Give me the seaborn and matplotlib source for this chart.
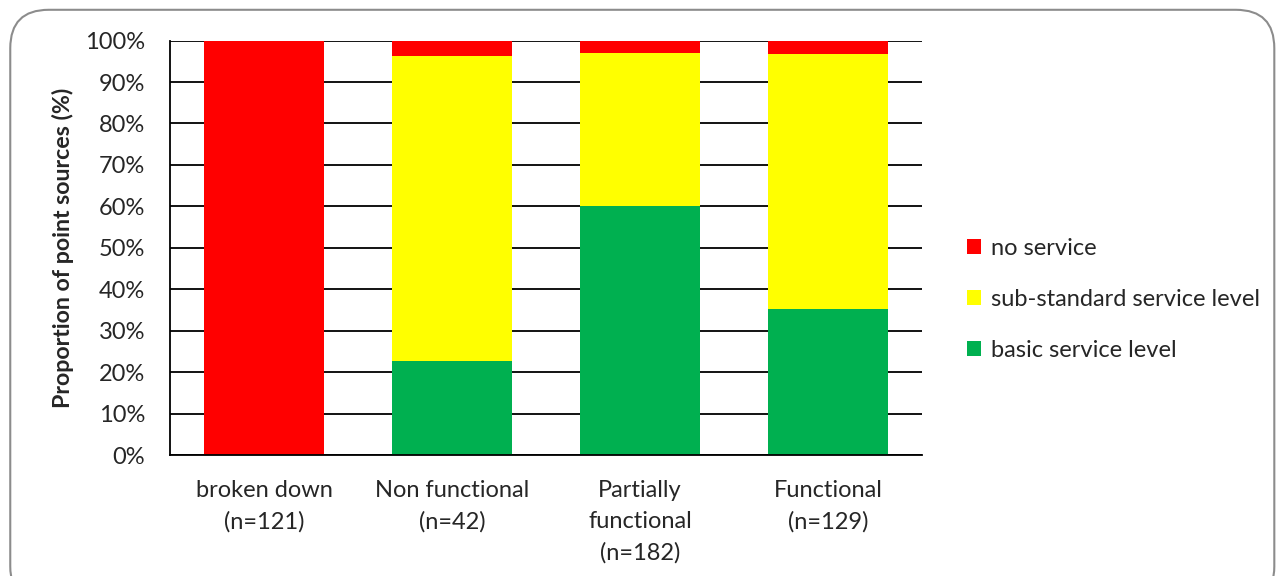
import matplotlib
matplotlib.use("Agg")
import matplotlib.pyplot as plt
import seaborn as sns
import pandas as pd
from matplotlib.patches import FancyBboxPatch, Patch

# Functionality categories with sample sizes
categories = ["broken down\n(n=121)", "Non functional\n(n=42)",
              "Partially\nfunctional\n(n=182)", "Functional\n(n=129)"]

# Service level shares (%) per category
basic_service = [0.0, 22.6, 60.0, 35.3]
substandard_service = [0.0, 73.8, 37.0, 61.5]
no_service = [100.0, 3.6, 3.0, 3.2]

series_names = ["no service", "sub-standard service level", "basic service level"]
series_colors = ["#FF0000", "#FFFF00", "#00B050"]

sns.set_theme(style="white")
plt.rcParams["font.family"] = ["Lato", "DejaVu Sans"]

FS = 17

df = pd.DataFrame({
    "category": categories,
    "basic": basic_service,
    "substandard": substandard_service,
    "none": no_service,
})
df["top_basic"] = df["basic"]
df["top_sub"] = df["basic"] + df["substandard"]
df["top_none"] = df["top_sub"] + df["none"]

fig = plt.figure(figsize=(12.82, 5.76), dpi=100)
ax = fig.add_axes([0.1326, 0.21, 0.5866, 0.7195])

# Stacked bars: draw cumulative tops from tallest to shortest
for col, color in [("top_none", series_colors[0]),
                   ("top_sub", series_colors[1]),
                   ("top_basic", series_colors[2])]:
    sns.barplot(data=df, x="category", y=col, color=color, width=0.64,
                saturation=1, ax=ax, zorder=3, linewidth=0)

ax.set_ylim(0, 100)
ax.set_xlim(-0.5, 3.5)
ax.set_yticks(range(0, 101, 10))
ax.set_yticklabels([f"{v}%" for v in range(0, 101, 10)], fontsize=FS)
ax.tick_params(axis="x", labelsize=FS, length=0, pad=18)
ax.tick_params(axis="y", length=0, pad=18)
for lbl in ax.get_xticklabels():
    lbl.set_linespacing(1.57)
ax.set_xlabel("")
ax.set_ylabel("Proportion of point sources (%)", fontsize=FS - 0.3,
              fontweight="bold", labelpad=8)

ax.grid(axis="y", color="black", linewidth=1.3, zorder=1)
ax.set_axisbelow(True)
for side in ["top", "right"]:
    ax.spines[side].set_visible(False)
for side in ["left", "bottom"]:
    ax.spines[side].set_color("black")
    ax.spines[side].set_linewidth(1.3)
    ax.spines[side].set_zorder(4)

handles = [Patch(facecolor=c, edgecolor="none") for c in series_colors]
leg = ax.legend(handles, series_names, loc="center left",
                bbox_to_anchor=(1.06, 0.375), frameon=False, fontsize=FS,
                handlelength=0.6, handleheight=0.6, handletextpad=0.4,
                labelspacing=1.27, borderpad=0, borderaxespad=0)

# Rounded chart border
border = FancyBboxPatch((0.008, -0.05), 0.986, 1.033,
                        boxstyle="round,pad=0,rounding_size=0.03",
                        transform=fig.transFigure, facecolor="none",
                        edgecolor="#8C8C8C", linewidth=1.5,
                        mutation_aspect=1282 / 576)
fig.patches.append(border)

fig.savefig("out.png", dpi=100)
